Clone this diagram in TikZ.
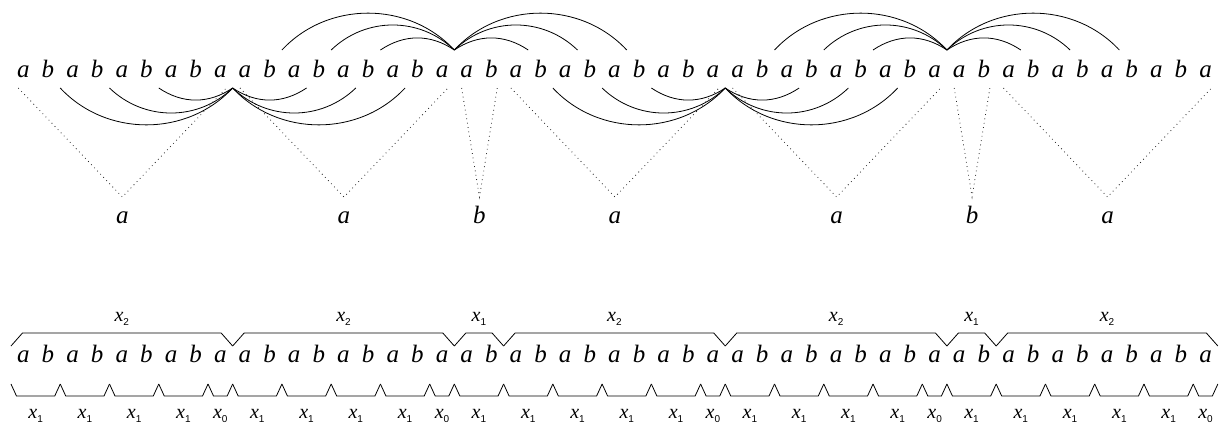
\documentclass[tikz,border=0pt]{standalone}
\usepackage{fontspec}
\setmainfont{Liberation Serif}
\newfontfamily\subfont{Liberation Sans}
% variable name with an upright sans subscript
\newcommand\blockvar[1]{x\raisebox{-4pt}{\subfont\upshape\fontsize{10}{10}\selectfont #1}}
\begin{document}
\begin{tikzpicture}[x=1pt,y=1pt,
  letter/.style={anchor=base,inner sep=0pt,font=\fontsize{25}{25}\selectfont\itshape},
  varlabel/.style={anchor=base,inner sep=0pt,font=\fontsize{20}{20}\selectfont\itshape},
  link/.style={line width=0.8pt},
  tree/.style={line width=0.8pt,black!85,dash pattern=on 0.8pt off 3.6pt},
  brace/.style={line width=0.8pt,line join=miter}]
\useasboundingbox (0,0) rectangle (1227,-423);
\def\xs{23.3}
\def\st{24.63}
\def\word{a,b,a,b,a,b,a,b,a, a,b,a,b,a,b,a,b,a, a,b, a,b,a,b,a,b,a,b,a, a,b,a,b,a,b,a,b,a, a,b, a,b,a,b,a,b,a,b,a}

% the word, twice
\foreach \c [count=\i from 0] in \word {
  \node[letter] (t\i) at ({\xs+\st*\i},-77) {\c};
  \node[letter] (u\i) at ({\xs+\st*\i},-362) {\c};
}

% arcs joining the block boundaries
\foreach \n/\c/\y/\sg in {jb1/8.5/88/-1, jb2/28.5/88/-1, jt1/17.5/50/1, jt2/37.5/50/1} {
  \coordinate (\n) at ({\xs+\st*\c},-\y);
  \foreach \k/\ang in {3/34,5/44,7/47} {
    \coordinate (\n-l\k) at ({\xs+\st*(\c-\k)},-\y);
    \coordinate (\n-r\k) at ({\xs+\st*(\c+\k)},-\y);
    \draw[link] (\n-l\k) to[bend left={\sg*\ang}] (\n);
    \draw[link] (\n) to[bend left={\sg*\ang}] (\n-r\k);
  }
}

% dotted contraction of each block to one letter
\foreach \n/\bs/\be/\lab in {v1/0/8/a, v2/9/17/a, v3/18/19/b, v4/20/28/a, v5/29/37/a, v6/38/39/b, v7/40/48/a} {
  \coordinate (\n-l) at ({\xs+\st*\bs-5},-88);
  \coordinate (\n-r) at ({\xs+\st*\be+6},-88);
  \coordinate (\n-v) at ({\xs+\st*(\bs+\be)/2+0.5},-197);
  \draw[tree] (\n-l) -- (\n-v) -- (\n-r);
  \node[letter] (\n-lab) at ({\xs+\st*(\bs+\be)/2+0.5},-223) {\lab};
}

% upper braces: level-2 factorisation
\foreach \n/\bs/\be/\k in {p1/0/8/2, p2/9/17/2, p3/18/19/1, p4/20/28/2, p5/29/37/2, p6/38/39/1, p7/40/48/2} {
  \pgfmathsetmacro\L{\xs+\st*(\bs-0.5)}
  \pgfmathsetmacro\R{\xs+\st*(\be+0.5)}
  \draw[brace] ({\L},-346) -- ({\L+11.5},-333) -- ({\R-11.5},-333) -- ({\R},-346);
  \node[varlabel] (\n) at ({(\L+\R)/2},-321) {\blockvar{\k}};
}

% lower braces: level-1 factorisation
\foreach \bs/\be/\k [count=\m] in {0/1/1, 2/3/1, 4/5/1, 6/7/1, 8/8/0,
    9/10/1, 11/12/1, 13/14/1, 15/16/1, 17/17/0,
    18/19/1,
    20/21/1, 22/23/1, 24/25/1, 26/27/1, 28/28/0,
    29/30/1, 31/32/1, 33/34/1, 35/36/1, 37/37/0,
    38/39/1,
    40/41/1, 42/43/1, 44/45/1, 46/47/1, 48/48/0} {
  \pgfmathsetmacro\L{\xs+\st*(\bs-0.5)}
  \pgfmathsetmacro\R{\xs+\st*(\be+0.5)}
  \draw[brace] ({\L},-384) -- ({\L+5.5},-396) -- ({\R-5.5},-396) -- ({\R},-384);
  \node[varlabel] (q\m) at ({(\L+\R)/2},-418) {\blockvar{\k}};
}
\end{tikzpicture}
\end{document}
